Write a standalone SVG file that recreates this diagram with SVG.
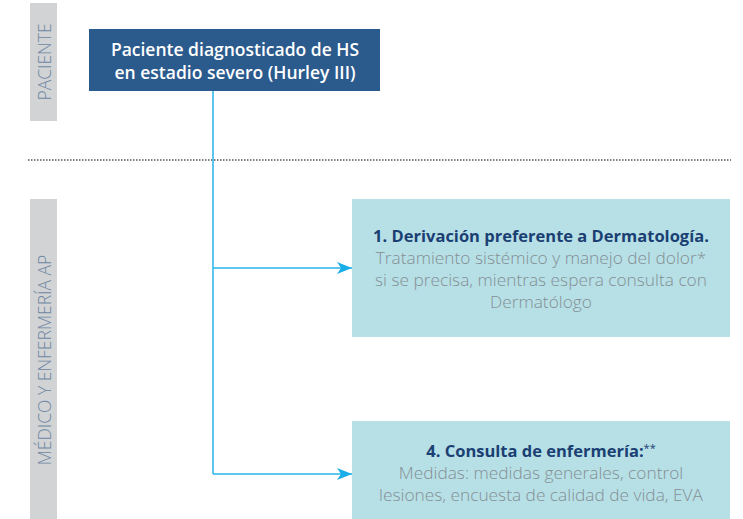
<svg xmlns="http://www.w3.org/2000/svg" width="743" height="519" viewBox="0 0 743 519">
<style>
.band{fill:#d1d3d5}
.lane{font-family:"Open Sans",sans-serif;font-weight:300;font-size:17.5px;fill:#6f87a3;text-anchor:middle}
.title{font-family:"Open Sans",sans-serif;font-weight:600;font-size:17.5px;fill:#ffffff;text-anchor:middle}
.box{fill:#b6e0e6}
.bold{font-family:"Open Sans",sans-serif;font-weight:700;font-size:16.5px;fill:#1b3f72;text-anchor:middle}
.gray{font-family:"Open Sans",sans-serif;font-weight:300;font-size:17.3px;fill:#858f94;text-anchor:middle}
.conn{stroke:#29b5e8;stroke-width:1.5;fill:none}
</style>
<defs>
<marker id="arr" markerUnits="userSpaceOnUse" markerWidth="16" markerHeight="12" refX="15" refY="6" orient="auto">
<path d="M0,0 L15,6 L0,12 L4,6 Z" fill="#1aaee8"/>
</marker>
</defs>
<rect width="743" height="519" fill="#ffffff"/>
<g id="lane-paciente">
<rect class="band" x="30" y="3" width="27" height="118"/>
<text class="lane" transform="translate(51,62) rotate(-90)">PACIENTE</text>
</g>
<g id="lane-medico">
<rect class="band" x="30" y="199" width="27" height="320"/>
<text class="lane" transform="translate(51,360) rotate(-90)">MÉDICO Y ENFERMERÍA AP</text>
</g>
<line x1="28" y1="160" x2="731" y2="160" stroke="#555" stroke-width="1.3" stroke-dasharray="1.5 1.5"/>
<g id="connectors">
<path class="conn" d="M213,91 V474"/>
<path class="conn" d="M213,268 H352" marker-end="url(#arr)"/>
<path class="conn" d="M213,474 H352" marker-end="url(#arr)"/>
</g>
<g id="node-paciente">
<rect x="89" y="29" width="291" height="62" fill="#2b5a8d"/>
<text class="title" x="235" y="56">Paciente diagnosticado de HS</text>
<text class="title" x="235" y="79">en estadio severo (Hurley III)</text>
</g>
<g id="node-derivacion">
<rect class="box" x="352" y="199" width="378" height="138"/>
<text class="bold" x="541" y="242">1. Derivación preferente a Dermatología.</text>
<text class="gray" x="541" y="264">Tratamiento sistémico y manejo del dolor*</text>
<text class="gray" x="541" y="286">si se precisa, mientras espera consulta con</text>
<text class="gray" x="541" y="308">Dermatólogo</text>
</g>
<g id="node-enfermeria">
<rect class="box" x="352" y="421" width="378" height="98"/>
<text class="bold" x="541" y="457">4. Consulta de enfermería:<tspan font-weight="400" font-size="11px" dy="-5">**</tspan></text>
<text class="gray" x="541" y="479">Medidas: medidas generales, control</text>
<text class="gray" x="541" y="501">lesiones, encuesta de calidad de vida, EVA</text>
</g>
</svg>
